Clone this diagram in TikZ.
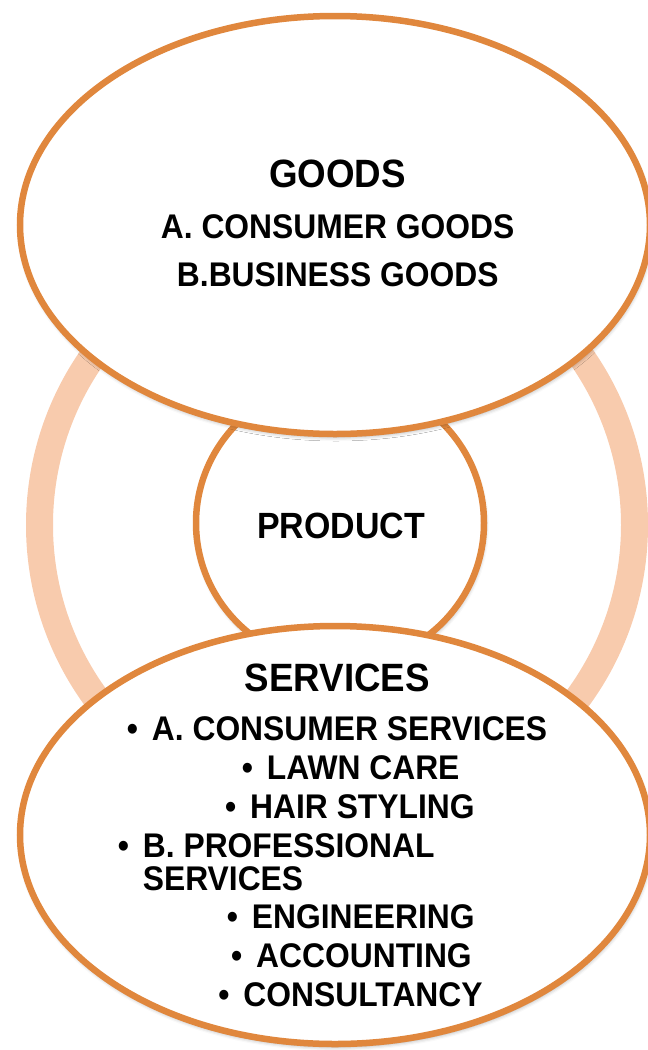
\documentclass[tikz,border=0pt]{standalone}
\usepackage{fontspec}
\setmainfont{Liberation Sans}[FakeStretch=0.93]
\usetikzlibrary{shapes.geometric,shadows.blur}

\definecolor{edgeorange}{RGB}{224,135,61}
\definecolor{ringpeach}{RGB}{248,203,173}

\newcommand\itembullet{\llap{\textbullet\hspace{14pt}}}

\tikzset{
  softshadow/.style={blur shadow={shadow xshift=1pt, shadow yshift=-3pt,
      shadow blur radius=4pt, shadow opacity=35}},
  bigoval/.style={ellipse, draw=edgeorange, line width=6.5pt, fill=white,
      inner sep=0pt, minimum width=630pt, minimum height=418pt, softshadow},
  core/.style={ellipse, draw=edgeorange, line width=6.5pt, fill=white,
      inner sep=0pt, minimum width=288pt, minimum height=284pt, softshadow},
  ringband/.style={ellipse, draw=ringpeach, line width=27pt,
      inner sep=0pt, minimum width=595pt, minimum height=590pt},
  heading/.style={font=\bfseries\fontsize{39.5}{45}\selectfont, inner sep=0pt, anchor=base},
  centre/.style={font=\bfseries\fontsize{36.5}{42}\selectfont, inner sep=0pt, anchor=base},
  subline/.style={font=\bfseries\fontsize{34.2}{40}\selectfont, inner sep=0pt, anchor=base},
  entry/.style={font=\bfseries\fontsize{34.2}{40}\selectfont, inner sep=0pt, anchor=base west},
}

\begin{document}
\begin{tikzpicture}[x=1pt, y=-1pt]
  \useasboundingbox (0,0) rectangle (648,1050);
  \clip (0,0) rectangle (648,1050);

  % outer band linking the two groups
  \node[ringband] (band) at (337,525) {};

  % central circle
  \node[core] (product) at (340,523) {};

  % goods and services ovals
  \node[bigoval] (goods) at (335,225) {};
  \node[bigoval] (services) at (335,835) {};

  % goods text
  \node[heading] (goodsT) at (337.6,187) {GOODS};
  \node[subline] (goodsA) at (337.6,238) {A. CONSUMER GOODS};
  \node[subline] (goodsB) at (337.8,286) {B.BUSINESS GOODS};

  % centre label
  \node[centre] (productT) at (341,538) {PRODUCT};

  % services text
  \node[heading] (servT) at (337.2,691) {SERVICES};
  \node[entry] (servA)   at (151.7,740) {\itembullet A. CONSUMER SERVICES};
  \node[entry] (lawn)    at (266.7,779) {\itembullet LAWN CARE};
  \node[entry] (hair)    at (250,818)   {\itembullet HAIR STYLING};
  \node[entry] (servB)   at (142.7,857) {\itembullet B. PROFESSIONAL};
  \node[entry] (servB2)  at (142.7,890) {SERVICES};
  \node[entry] (eng)     at (251.7,928) {\itembullet ENGINEERING};
  \node[entry] (acc)     at (256,967)   {\itembullet ACCOUNTING};
  \node[entry] (cons)    at (243.3,1006) {\itembullet CONSULTANCY};
\end{tikzpicture}
\end{document}
